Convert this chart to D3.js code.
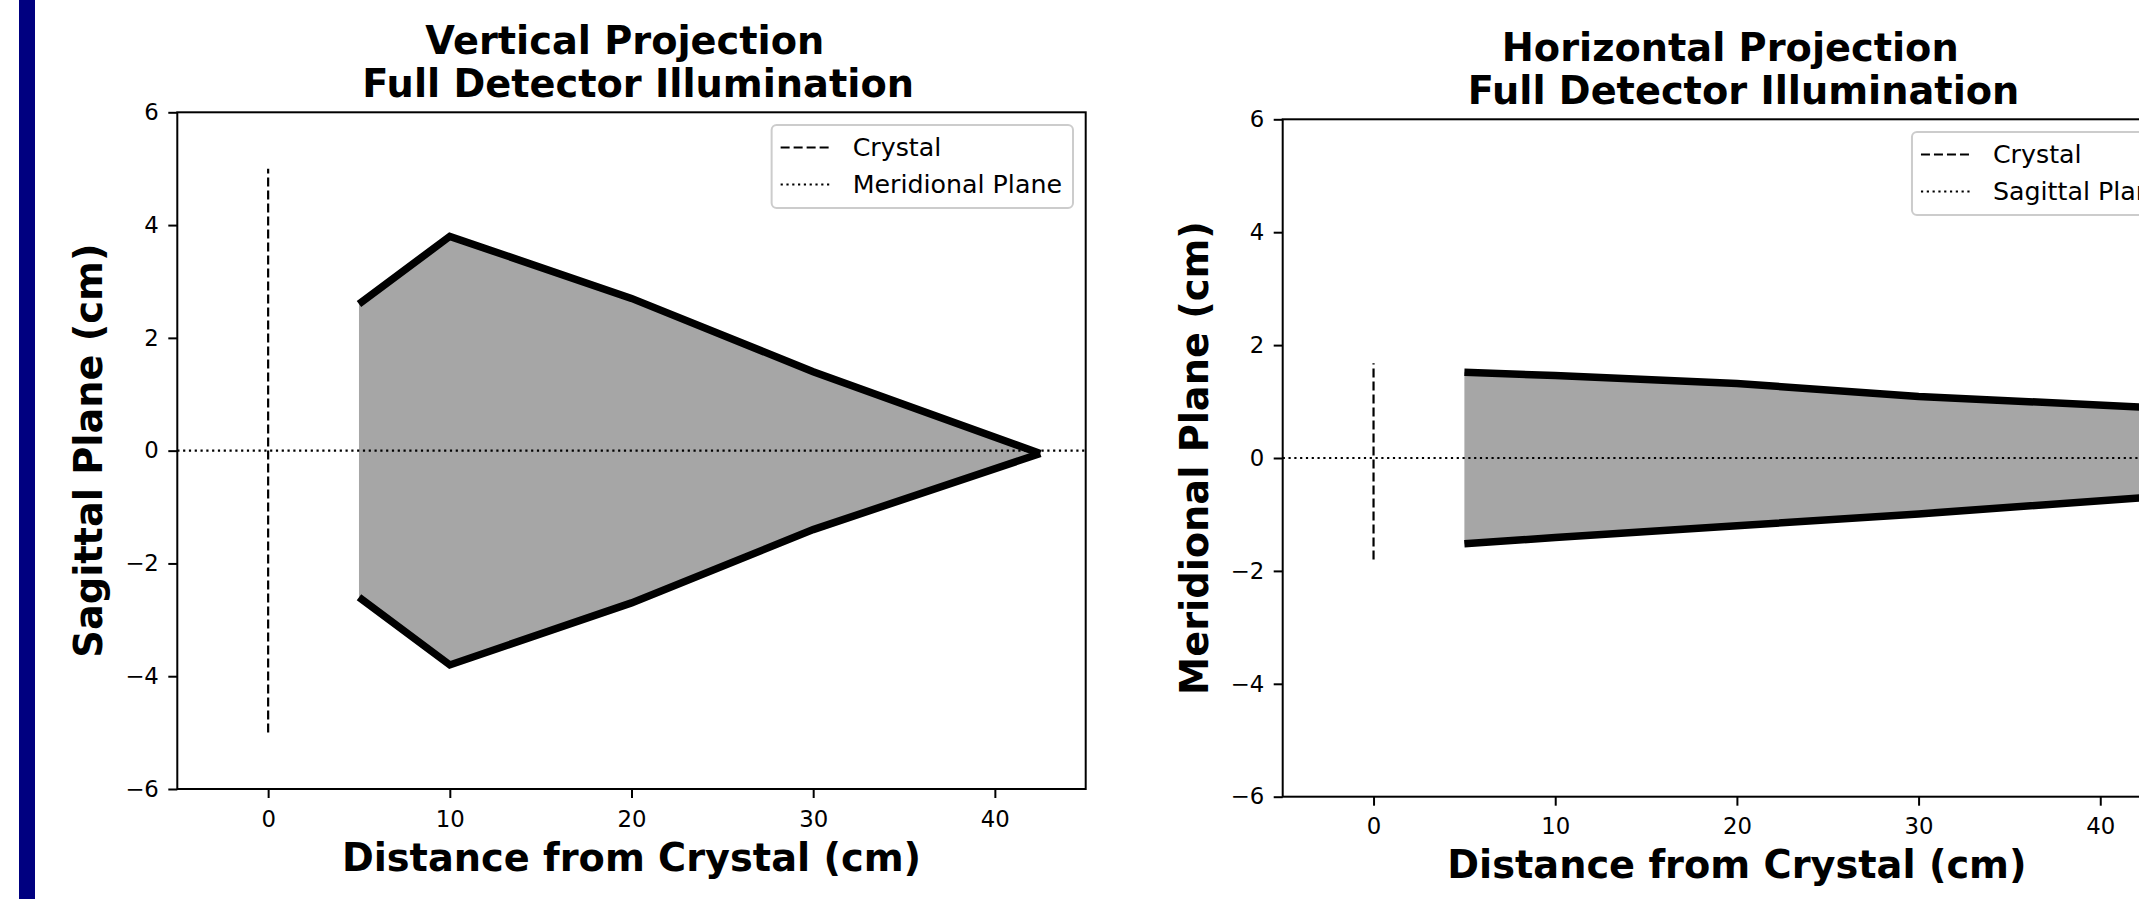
<!DOCTYPE html>
<html><head><meta charset="utf-8">
<script src="https://cdn.jsdelivr.net/npm/d3@7"></script>
<style>
body{margin:0;background:#fff;overflow:hidden}
svg{display:block}
text{font-family:"DejaVu Sans",sans-serif;fill:#000}
</style>
</head><body>
<svg id="chart" width="2139" height="899"></svg>
<script>
// ---------------- data ----------------
const distances = [5, 10, 20, 30, 42.5];
const verticalUpper = [2.6, 3.8, 2.7, 1.4, -0.05];
const verticalLower = [-2.6, -3.8, -2.7, -1.4, -0.05];
const horizontalUpper = [1.52, 1.46, 1.32, 1.09, 0.9];
const horizontalLower = [-1.52, -1.41, -1.2, -0.99, -0.7];
const verticalCrystal = [-5, 5];
const horizontalCrystal = [-1.8, 1.68];
const xTicks = [0, 10, 20, 30, 40];
const yTicks = [-6, -4, -2, 0, 2, 4, 6];
const xDomain = [-5, 45];
const yDomain = [-6, 6];
const titleLine1 = ["Vertical Projection", "Horizontal Projection"];
const titleLine2 = ["Full Detector Illumination", "Full Detector Illumination"];
const yLabels = ["Sagittal Plane (cm)", "Meridional Plane (cm)"];
const xLabel = "Distance from Crystal (cm)";
const legendCrystal = ["Crystal", "Crystal"];
const legendPlane = ["Meridional Plane", "Sagittal Plane"];

// ---------------- layout ----------------
const panels = [
  {left: 177.3, right: 1085.7, top: 112.3, bottom: 789,
   upper: verticalUpper, lower: verticalLower, crystal: verticalCrystal},
  {left: 1282.7, right: 2191.1, top: 119.3, bottom: 796.7,
   upper: horizontalUpper, lower: horizontalLower, crystal: horizontalCrystal}
];
const bigFont = 38.3;
const spaceShift = bigFont * 0.348 / 2; // title lines carry a trailing / leading space

const svg = d3.select("#chart");
svg.append("rect").attr("x", 19).attr("y", 0).attr("width", 16).attr("height", 899).attr("fill", "#000080");

panels.forEach((p, i) => {
  const x = d3.scaleLinear().domain(xDomain).range([p.left, p.right]);
  const y = d3.scaleLinear().domain(yDomain).range([p.bottom, p.top]);
  const g = svg.append("g");
  const clipId = "clip" + i;
  g.append("clipPath").attr("id", clipId).append("rect")
    .attr("x", p.left).attr("y", p.top).attr("width", p.right - p.left).attr("height", p.bottom - p.top);
  const plot = g.append("g").attr("clip-path", `url(#${clipId})`);

  const pts = distances.map((d, k) => ({d, u: p.upper[k], l: p.lower[k]}));
  const area = d3.area().x(d => x(d.d)).y0(d => y(d.l)).y1(d => y(d.u));
  plot.append("path").datum(pts).attr("d", area).attr("fill", "#a6a6a6");
  const lineU = d3.line().x(d => x(d.d)).y(d => y(d.u));
  const lineL = d3.line().x(d => x(d.d)).y(d => y(d.l));
  [lineU, lineL].forEach(ln => plot.append("path").datum(pts).attr("d", ln)
    .attr("fill", "none").attr("stroke", "#000").attr("stroke-width", 7.5).attr("stroke-linejoin", "miter"));

  // crystal (dashed)
  plot.append("line").attr("x1", x(0)).attr("x2", x(0)).attr("y1", y(p.crystal[0])).attr("y2", y(p.crystal[1]))
    .attr("stroke", "#000").attr("stroke-width", 2.2).attr("stroke-dasharray", "9,4");
  // plane (dotted)
  plot.append("line").attr("x1", x(xDomain[0])).attr("x2", x(xDomain[1])).attr("y1", y(0)).attr("y2", y(0))
    .attr("stroke", "#000").attr("stroke-width", 2.2).attr("stroke-dasharray", "2.2,3.6");

  // axes
  const ax = g.append("g").attr("transform", `translate(0,${p.bottom})`)
    .call(d3.axisBottom(x).tickValues(xTicks).tickSize(9).tickSizeOuter(0).tickPadding(12.5));
  const ay = g.append("g").attr("transform", `translate(${p.left},0)`)
    .call(d3.axisLeft(y).tickValues(yTicks).tickSize(9).tickSizeOuter(0).tickPadding(9.5));
  [ax, ay].forEach(a => {
    a.select(".domain").remove();
    a.selectAll(".tick line").attr("stroke", "#000").attr("stroke-width", 2);
    a.selectAll(".tick text").attr("font-family", "DejaVu Sans").attr("font-size", 22.8).attr("fill", "#000");
  });
  g.append("rect").attr("x", p.left).attr("y", p.top).attr("width", p.right - p.left).attr("height", p.bottom - p.top)
    .attr("fill", "none").attr("stroke", "#000").attr("stroke-width", 2);

  const cx = (p.left + p.right) / 2;
  // titles
  g.append("text").attr("x", cx - spaceShift).attr("y", p.top - 58.5).attr("text-anchor", "middle")
    .attr("font-size", bigFont).attr("font-weight", "bold").text(titleLine1[i]);
  g.append("text").attr("x", cx + spaceShift).attr("y", p.top - 15.5).attr("text-anchor", "middle")
    .attr("font-size", bigFont).attr("font-weight", "bold").text(titleLine2[i]);
  // x label
  g.append("text").attr("x", cx).attr("y", p.bottom + 81.7).attr("text-anchor", "middle")
    .attr("font-size", bigFont).attr("font-weight", "bold").text(xLabel);
  // y label
  const cy = (p.top + p.bottom) / 2;
  g.append("text").attr("transform", `translate(${p.left - 75},${cy}) rotate(-90)`).attr("text-anchor", "middle")
    .attr("font-size", bigFont).attr("font-weight", "bold").text(yLabels[i]);

  // legend
  const lg = g.append("g");
  const box = lg.append("rect");
  const t1 = lg.append("text").attr("font-size", 25.3).text(legendCrystal[i]);
  const t2 = lg.append("text").attr("font-size", 25.3).text(legendPlane[i]);
  const tw = Math.max(t1.node().getComputedTextLength(), t2.node().getComputedTextLength());
  const padL = 9, handle = 52, gap = 20, padR = 11;
  const bw = padL + handle + gap + tw + padR;
  const bx = p.right - 12.7 - bw, by = p.top + 12.7, bh = 83;
  box.attr("x", bx).attr("y", by).attr("width", bw).attr("height", bh).attr("rx", 5)
    .attr("fill", "#fff").attr("fill-opacity", 0.8).attr("stroke", "#cccccc").attr("stroke-width", 2);
  const tx = bx + padL + handle + gap;
  const b1 = by + 31, b2 = by + 68;
  t1.attr("x", tx).attr("y", b1);
  t2.attr("x", tx).attr("y", b2);
  lg.append("line").attr("x1", bx + padL).attr("x2", bx + padL + handle).attr("y1", b1 - 8.5).attr("y2", b1 - 8.5)
    .attr("stroke", "#000").attr("stroke-width", 2.2).attr("stroke-dasharray", "9,4");
  lg.append("line").attr("x1", bx + padL).attr("x2", bx + padL + handle).attr("y1", b2 - 8.5).attr("y2", b2 - 8.5)
    .attr("stroke", "#000").attr("stroke-width", 2.2).attr("stroke-dasharray", "2.2,3.6");
});
</script>
</body></html>
